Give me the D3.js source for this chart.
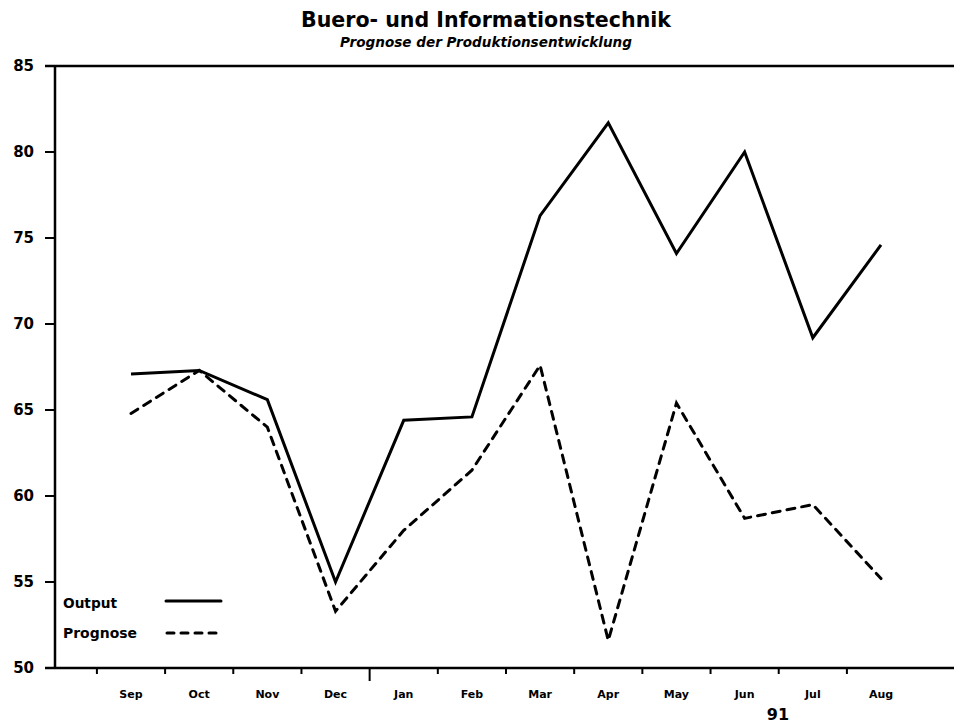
<!DOCTYPE html>
<html>
<head>
<meta charset="utf-8">
<script src="https://cdn.jsdelivr.net/npm/d3@7"></script>
<style>
  html, body { margin: 0; padding: 0; background: #fff; }
  svg { display: block; }
  text { font-family: "DejaVu Sans", sans-serif; fill: #000; }
</style>
</head>
<body>
<script>
const months = ["Sep","Oct","Nov","Dec","Jan","Feb","Mar","Apr","May","Jun","Jul","Aug"];
const output   = [67.1, 67.3, 65.6, 55.0, 64.4, 64.6, 76.3, 81.7, 74.1, 80.0, 69.2, 74.6];
const prognose = [64.8, 67.3, 64.0, 53.3, 58.0, 61.5, 67.6, 51.6, 65.4, 58.7, 59.5, 55.2];
const yTicks = [50, 55, 60, 65, 70, 75, 80, 85];
const yearLabel = "91";
const title = "Buero- und Informationstechnik";
const subtitle = "Prognose der Produktionsentwicklung";
const legendNames = ["Output", "Prognose"];

(function () {
const W = 954, H = 724;
const svg = d3.select("body").append("svg").attr("width", W).attr("height", H);

const axisLeft = 55, axisRight = 954, plotTop = 66, plotBottom = 668;
const y = d3.scaleLinear().domain([50, 85]).range([plotBottom, plotTop]);
const x = d3.scaleLinear().domain([0, 11]).range([131, 881]);

// title
svg.append("text").attr("x", 486).attr("y", 27).attr("text-anchor", "middle")
  .attr("font-size", 22).attr("font-weight", "bold")
  .attr("textLength", 370).attr("lengthAdjust", "spacingAndGlyphs")
  .text(title);
svg.append("text").attr("x", 486).attr("y", 47).attr("text-anchor", "middle")
  .attr("font-size", 14).attr("font-weight", "bold").attr("font-style", "italic")
  .attr("textLength", 292).attr("lengthAdjust", "spacingAndGlyphs")
  .text(subtitle);

// axes lines
const ax = svg.append("g").attr("stroke", "#000").attr("fill", "none");
ax.append("line").attr("x1", 45).attr("x2", axisRight).attr("y1", plotTop).attr("y2", plotTop).attr("stroke-width", 2.5);
ax.append("line").attr("x1", 45).attr("x2", axisRight).attr("y1", plotBottom).attr("y2", plotBottom).attr("stroke-width", 2.5);
ax.append("line").attr("x1", axisLeft).attr("x2", axisLeft).attr("y1", plotTop).attr("y2", plotBottom).attr("stroke-width", 2.5);

// y ticks
yTicks.forEach(v => {
  ax.append("line").attr("x1", 45).attr("x2", axisLeft).attr("y1", y(v)).attr("y2", y(v)).attr("stroke-width", 2);
  svg.append("text").attr("x", 34).attr("y", y(v)).attr("dy", "0.36em")
    .attr("text-anchor", "end").attr("font-size", 15).attr("font-weight", "bold")
    .text(v);
});

// x ticks at month boundaries
months.forEach((m, i) => {
  const xb = x(i - 0.5);
  const long = (m === "Jan");
  ax.append("line").attr("x1", xb).attr("x2", xb).attr("y1", plotBottom).attr("y2", plotBottom + (long ? 13 : 6)).attr("stroke-width", 2);
  svg.append("text").attr("x", x(i)).attr("y", 698).attr("text-anchor", "middle")
    .attr("font-size", 11).attr("font-weight", "bold")
    .text(m);
});
svg.append("text").attr("x", 778).attr("y", 720).attr("text-anchor", "middle")
  .attr("font-size", 16).attr("font-weight", "bold").text(yearLabel);

// series
const line = d3.line().x((d, i) => x(i)).y(d => y(d));
svg.append("path").datum(output).attr("d", line)
  .attr("fill", "none").attr("stroke", "#000").attr("stroke-width", 3)
  .attr("stroke-linejoin", "miter");
svg.append("path").datum(prognose).attr("d", line)
  .attr("fill", "none").attr("stroke", "#000").attr("stroke-width", 3)
  .attr("stroke-dasharray", "8,7").attr("stroke-linecap", "round");

// legend
const lg = svg.append("g");
lg.append("text").attr("x", 63).attr("y", 608).attr("font-size", 13.5).attr("font-weight", "bold")
  .attr("textLength", 54).attr("lengthAdjust", "spacingAndGlyphs").text(legendNames[0]);
lg.append("line").attr("x1", 166).attr("x2", 221).attr("y1", 601).attr("y2", 601)
  .attr("stroke", "#000").attr("stroke-width", 3).attr("stroke-linecap", "round");
lg.append("text").attr("x", 63).attr("y", 638).attr("font-size", 13.5).attr("font-weight", "bold")
  .attr("textLength", 74).attr("lengthAdjust", "spacingAndGlyphs").text(legendNames[1]);
lg.append("line").attr("x1", 167).attr("x2", 216).attr("y1", 633).attr("y2", 633)
  .attr("stroke", "#000").attr("stroke-width", 3).attr("stroke-linecap", "round")
  .attr("stroke-dasharray", "7,7");
})();
</script>
</body>
</html>
